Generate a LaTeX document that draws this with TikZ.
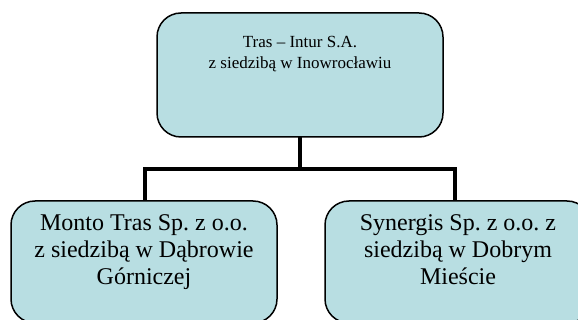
\documentclass[tikz,border=0pt]{standalone}
\usepackage{fontspec}
\setmainfont{Liberation Serif}
\frenchspacing
\definecolor{boxfill}{RGB}{184,222,226}
\tikzset{
  orgbox/.style={draw=black, line width=1.5pt, fill=boxfill, rounded corners=24pt,
    inner sep=0pt, outer sep=0pt},
  link/.style={draw=black, line width=4.8pt, line join=miter}
}
\begin{document}
\begin{tikzpicture}[x=1pt,y=-1pt]
\useasboundingbox (0,0) rectangle (578,320);
\clip (0,0) rectangle (578,320);
\node[orgbox] (top) at (300,75)
  {\parbox[c][124pt][t]{286pt}{\centering\fontsize{17pt}{21pt}\selectfont
   \vspace*{20pt}\strut Tras – Intur S.A.\\ z siedzibą w Inowrocławiu}};
\node[orgbox] (left) at (144,262)
  {\parbox[c][122pt][t]{266pt}{\centering\fontsize{24pt}{27pt}\selectfont
   \vspace*{11pt}\strut Monto Tras Sp. z o.o.\\ z siedzibą w Dąbrowie\\ Górniczej}};
\node[orgbox] (right) at (458,262)
  {\parbox[c][122pt][t]{266pt}{\centering\fontsize{24pt}{27pt}\selectfont
   \vspace*{11pt}\strut Synergis Sp. z o.o. z\\ siedzibą w Dobrym\\ Mieście}};
\coordinate (bar) at ([yshift=-32pt]top.south);
\draw[link] (top.south) -- (bar);
\draw[link] ([xshift=1pt]left.north) |- ([xshift=-3pt]bar -| right.north)
  -- ([xshift=-3pt]right.north);
\end{tikzpicture}
\end{document}
